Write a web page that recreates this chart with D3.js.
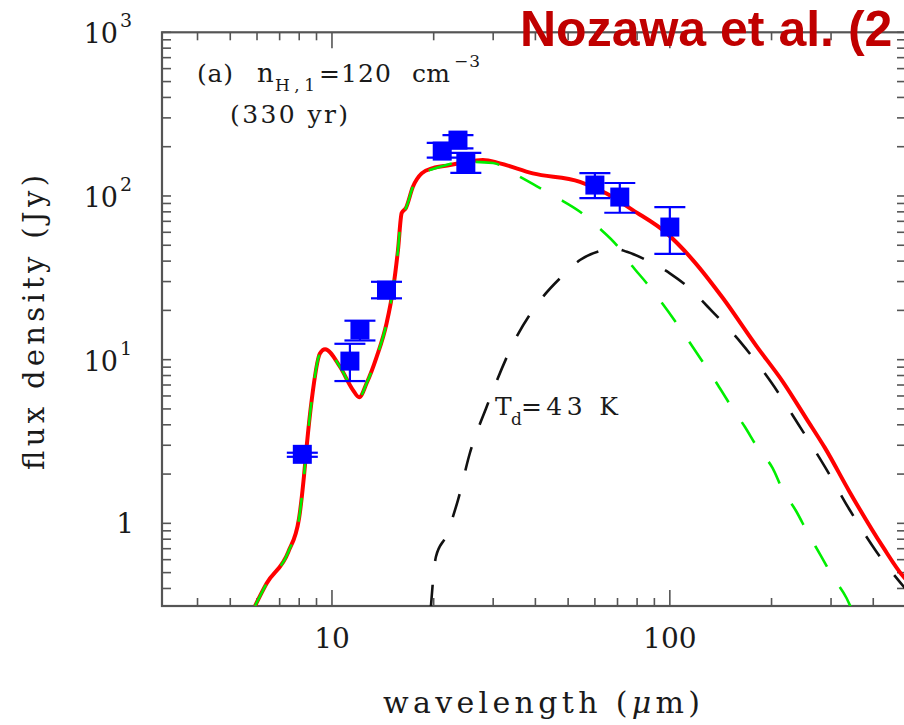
<!DOCTYPE html>
<html><head><meta charset="utf-8">
<script src="https://cdn.jsdelivr.net/npm/d3@7"></script>
<style>html,body{margin:0;padding:0;background:#fff;overflow:hidden}</style>
</head><body>
<script>
// ---- data ----
const obsWave  = [8.17, 11.3, 12.1, 14.5, 21.2, 23.6, 24.9, 60, 71.1, 100];
const obsFlux  = [2.64, 9.8, 15.2, 26.6, 188, 219.5, 159.5, 116.6, 98.5, 64.6];
const obsLo    = [2.55, 7.4, 13.1, 23.7, 171.6, 195.4, 138.6, 97, 79, 44.3];
const obsHi    = [2.70, 12.5, 17.3, 29.9, 211, 235.5, 183.6, 138, 120, 85.5];

const totalWave = [5.92, 6.41, 7.43, 7.99, 8.26, 8.42, 8.71, 9.21, 9.54, 10.56, 11.54, 12.04, 12.67, 13.56, 14.51, 15.15, 15.68, 16.08, 16.55, 17.36, 18.43, 19.9, 22.34, 25.03, 27.97, 31.4, 39.3, 54.2, 64.96, 77.7, 97.8, 117, 143.5, 180.5, 216.3, 253.8, 287.5, 340.8, 426.8, 492.4, 520];
const totalFlux = [0.313, 0.43, 0.671, 1.073, 1.93, 2.98, 5.67, 10.9, 11.56, 9.05, 6.52, 5.89, 7.2, 10.4, 16.7, 26.6, 46.7, 78.6, 84.4, 113.8, 137.4, 148, 154.4, 161.8, 165.7, 158.2, 137.4, 122.1, 103.7, 82.0, 59.3, 40.6, 23.8, 12.1, 7.3, 4.35, 2.9, 1.55, 0.72, 0.47, 0.42];

const ejectaWave = [5.92, 6.41, 7.43, 7.99, 8.26, 8.42, 8.71, 9.21, 9.54, 10.56, 11.54, 12.04, 12.67, 13.56, 14.51, 15.15, 15.68, 16.08, 16.55, 17.36, 18.43, 19.9, 21.3, 24.5, 29.95, 34.8, 40.3, 46.6, 54.2, 61.7, 69.6, 77.0, 85.3, 93.4, 126.9, 138.7, 152.2, 166.7, 182.2, 201.3, 215.9, 237.1, 256.1, 279.2, 303.5, 333.3, 345];
const ejectaFlux = [0.313, 0.43, 0.671, 1.073, 1.93, 2.98, 5.67, 10.9, 11.56, 9.05, 6.52, 5.89, 7.2, 10.4, 16.7, 26.6, 46.7, 78.6, 84.4, 113.8, 137.4, 146, 152.3, 162, 158.9, 136, 114.9, 97.1, 80.1, 63.9, 50.1, 37.8, 29.4, 23.1, 9.27, 7.0, 5.16, 3.89, 2.88, 2.18, 1.597, 1.177, 0.872, 0.64, 0.472, 0.35, 0.3];

const bbWave = [19.6, 20.31, 21.75, 23.6, 25.6, 28.7, 34.8, 42.1, 47.8, 54.2, 63.4, 67.8, 74.6, 87.3, 100, 115.9, 129.5, 163, 200, 240.8, 287.5, 340.8, 408.8, 492.4, 520];
const bbFlux = [0.30, 0.625, 0.836, 1.388, 2.69, 5.16, 13.2, 24.2, 32.1, 40.6, 46.7, 48.1, 45.6, 39.6, 33.7, 26.6, 21.05, 12.58, 7.22, 3.99, 2.22, 1.206, 0.671, 0.41, 0.36];

const xMajor = [10, 100];
const xMinor = [4, 5, 6, 7, 8, 9, 20, 30, 40, 50, 60, 70, 80, 90, 200, 300, 400];
const yMajor = [1, 10, 100, 1000];
const yMinor = [0.4, 0.5, 0.6, 0.7, 0.8, 0.9, 2, 3, 4, 5, 6, 7, 8, 9, 20, 30, 40, 50, 60, 70, 80, 90, 200, 300, 400, 500, 600, 700, 800, 900];
const xTickLabels = ["10", "100"];
const yTickLabels = [{base: "1", exp: ""}, {base: "10", exp: "1"}, {base: "10", exp: "2"}, {base: "10", exp: "3"}];

// ---- layout ----
const W = 904, H = 725;
const L = 162, R = 906, T = 32.3, B = 606;
const svg = d3.select("body").append("svg").attr("width", W).attr("height", H);

const x = d3.scaleLog().domain([3.14, 500]).range([L, R]);
const y = d3.scaleLog().domain([0.3126, 1000]).range([B, T]);

const serif = "'DejaVu Serif', serif";
const frameCol = "#555";
const ink = "#1a1a1a";

svg.append("defs").append("clipPath").attr("id", "clip")
  .append("rect").attr("x", L).attr("y", T).attr("width", R - L).attr("height", B - T);

// ---- frame & ticks ----
const g = svg.append("g");
g.append("rect").attr("x", L).attr("y", T).attr("width", R - L).attr("height", B - T)
  .attr("fill", "none").attr("stroke", frameCol).attr("stroke-width", 2.2);

function xt(vals, len) {
  vals.forEach(v => {
    const px = x(v);
    g.append("line").attr("x1", px).attr("x2", px).attr("y1", B).attr("y2", B - len)
      .attr("stroke", frameCol).attr("stroke-width", 1.6);
    g.append("line").attr("x1", px).attr("x2", px).attr("y1", T).attr("y2", T + len)
      .attr("stroke", frameCol).attr("stroke-width", 1.6);
  });
}
xt(xMajor, 16); xt(xMinor, 8);
function yt(vals, len) {
  vals.forEach(v => {
    const py = y(v);
    g.append("line").attr("x1", L).attr("x2", L + len).attr("y1", py).attr("y2", py)
      .attr("stroke", frameCol).attr("stroke-width", 1.6);
    g.append("line").attr("x1", R).attr("x2", R - len).attr("y1", py).attr("y2", py)
      .attr("stroke", frameCol).attr("stroke-width", 1.6);
  });
}
yt(yMajor, 9); yt(yMinor, 9);

// tick labels
xMajor.forEach((v, i) => {
  svg.append("text").attr("x", x(v)).attr("y", 648).attr("text-anchor", "middle")
    .attr("font-family", serif).attr("font-size", 28).attr("fill", ink).text(xTickLabels[i]);
});
yMajor.forEach((v, i) => {
  const lab = yTickLabels[i];
  const py = y(v);
  if (lab.exp === "") {
    svg.append("text").attr("x", 134).attr("y", py + 10).attr("text-anchor", "end")
      .attr("font-family", serif).attr("font-size", 28).attr("fill", ink).text(lab.base);
  } else {
    svg.append("text").attr("x", 118).attr("y", py + 11).attr("text-anchor", "end")
      .attr("font-family", serif).attr("font-size", 27).attr("fill", ink).text(lab.base);
    svg.append("text").attr("x", 120).attr("y", py - 5).attr("text-anchor", "start")
      .attr("font-family", serif).attr("font-size", 19).attr("fill", ink).text(lab.exp);
  }
});

// axis titles
const xt1 = svg.append("text").attr("x", 383).attr("y", 713)
  .attr("font-family", serif).attr("font-size", 30).attr("fill", ink)
  .attr("textLength", 317).attr("lengthAdjust", "spacing");
xt1.append("tspan").text("wavelength (");
xt1.append("tspan").attr("font-style", "italic").text("μ");
xt1.append("tspan").text("m)");

svg.append("text").attr("transform", "translate(44,470) rotate(-90)")
  .attr("font-family", serif).attr("font-size", 29).attr("fill", ink)
  .attr("textLength", 295).attr("lengthAdjust", "spacing")
  .text("flux density (Jy)");

// ---- curves ----
const plot = svg.append("g").attr("clip-path", "url(#clip)");
const line = d3.line().x(d => x(d[0])).y(d => y(d[1])).curve(d3.curveMonotoneX);

plot.append("path").datum(d3.zip(totalWave, totalFlux)).attr("d", line)
  .attr("fill", "none").attr("stroke", "#ff0000").attr("stroke-width", 4);
plot.append("path").datum(d3.zip(ejectaWave, ejectaFlux)).attr("d", line)
  .attr("fill", "none").attr("stroke", "#00ee00").attr("stroke-width", 2.6)
  .attr("stroke-dasharray", "24,24");
plot.append("path").datum(d3.zip(bbWave, bbFlux)).attr("d", line)
  .attr("fill", "none").attr("stroke", "#111").attr("stroke-width", 2.6)
  .attr("stroke-dasharray", "24,24");

// ---- observations ----
const obs = obsWave.map((w, i) => ({w, f: obsFlux[i], lo: obsLo[i], hi: obsHi[i]}));
const og = plot.append("g");
obs.forEach(d => {
  const px = x(d.w);
  og.append("line").attr("x1", px).attr("x2", px).attr("y1", y(d.lo)).attr("y2", y(d.hi))
    .attr("stroke", "#0000ff").attr("stroke-width", 2.2);
  [d.lo, d.hi].forEach(v => og.append("line").attr("x1", px - 15.5).attr("x2", px + 15.5)
    .attr("y1", y(v)).attr("y2", y(v)).attr("stroke", "#0000ff").attr("stroke-width", 2.2));
});
obs.forEach(d => {
  og.append("rect").attr("x", x(d.w) - 9.5).attr("y", y(d.f) - 9.5).attr("width", 19).attr("height", 19)
    .attr("fill", "#0000ff");
});

// ---- annotations ----
function txt(s, x0, y0, size, len) {
  const t = svg.append("text").attr("x", x0).attr("y", y0).attr("font-family", serif)
    .attr("font-size", size).attr("fill", ink).text(s);
  if (len) t.attr("textLength", len).attr("lengthAdjust", "spacing");
  return t;
}
txt("(a)", 197, 82, 25, 36);
txt("n", 257, 82, 26);
txt("H,1", 275, 91, 17, 40);
txt("=120", 319, 82, 25, 72);
txt("cm", 412, 82, 25, 38);
txt("−3", 454, 67, 17, 26);
txt("(330 yr)", 230, 123, 25, 118);
txt("T", 495, 415, 25);
txt("d", 511, 425, 17);
txt("=43 K", 521, 415, 25, 97);

// title
svg.append("text").attr("x", 520).attr("y", 46)
  .attr("font-family", "'Liberation Sans', Arial, sans-serif").attr("font-weight", "bold")
  .attr("font-size", 50).attr("fill", "#c00000").text("Nozawa et al. (2");
</script>
</body></html>
